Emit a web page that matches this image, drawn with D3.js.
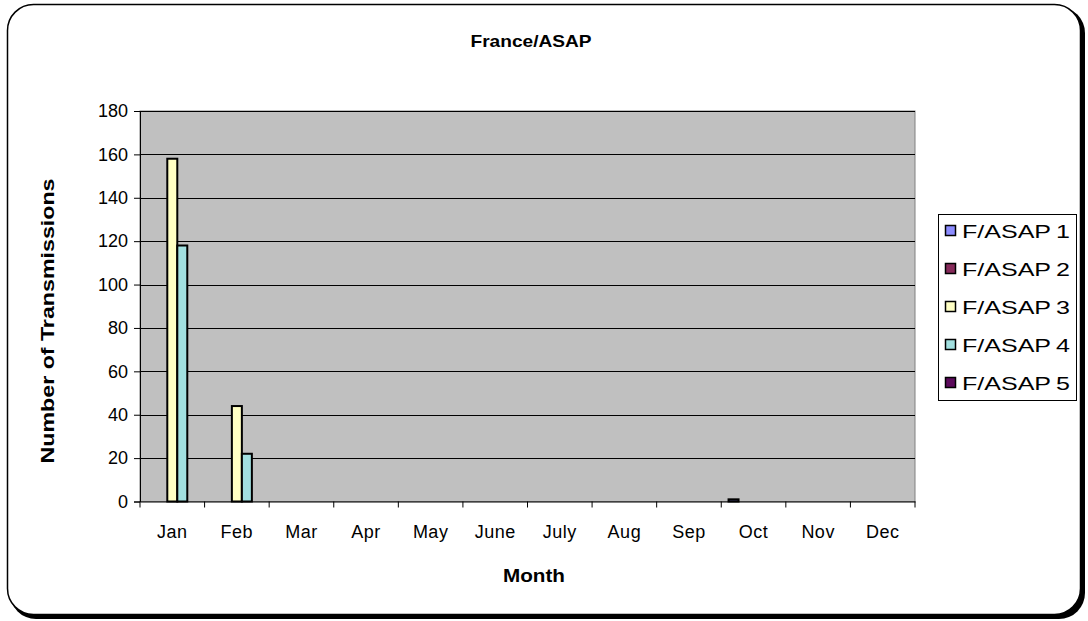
<!DOCTYPE html>
<html><head><meta charset="utf-8">
<script src="https://cdn.jsdelivr.net/npm/d3@7"></script>
<style>body{margin:0;background:#fff;}svg{display:block;font-family:"Liberation Sans",Arial,sans-serif;}</style>
</head><body><svg id="c" width="1088" height="621"></svg>
<script>
const months = ["Jan","Feb","Mar","Apr","May","June","July","Aug","Sep","Oct","Nov","Dec"];
const seriesNames = ["F/ASAP 1","F/ASAP 2","F/ASAP 3","F/ASAP 4","F/ASAP 5"];
const asap1 = [0,0,0,0,0,0,0,0,0,1,0,0];
const asap2 = [0,0,0,0,0,0,0,0,0,0,0,0];
const asap3 = [158,44,0,0,0,0,0,0,0,0,0,0];
const asap4 = [118,22,0,0,0,0,0,0,0,0,0,0];
const asap5 = [0,0,0,0,0,0,0,0,0,0,0,0];
const yTicks = [0,20,40,60,80,100,120,140,160,180];
const colors = ["#8C8CFF","#862A5A","#FFFFC4","#A2E0E0","#5C0A5C"];
const title = "France/ASAP", xTitle = "Month", yTitle = "Number of Transmissions";

const seriesData = [asap1,asap2,asap3,asap4,asap5];
const svg = d3.select("#c");

// outer frame with shadow
svg.append("rect").attr("x",10).attr("y",7).attr("width",1075).attr("height",612).attr("rx",26).attr("fill","#000");
svg.append("rect").attr("x",7.5).attr("y",4.5).attr("width",1073).attr("height",610).attr("rx",26)
  .attr("fill","#fff").attr("stroke","#000").attr("stroke-width",1.5);

const L=140, R=915, T=111, B=501.5;
const x = d3.scaleBand().domain(months).range([L,R]).padding(0);
const x1 = d3.scaleBand().domain(seriesNames).range([0,x.bandwidth()]).paddingInner(0).paddingOuter(0.73);
const y = d3.scaleLinear().domain([0,180]).range([B,T]);

svg.append("rect").attr("x",L).attr("y",T).attr("width",R-L).attr("height",B-T)
  .attr("fill","#C0C0C0").attr("stroke","#808080").attr("stroke-width",1);

svg.append("g").selectAll("line").data(yTicks.filter(d=>d>0)).join("line")
  .attr("x1",L).attr("x2",R).attr("y1",d=>Math.round(y(d))+0.5).attr("y2",d=>Math.round(y(d))+0.5)
  .attr("stroke","#000").attr("stroke-width",1);

// bars
const bars = [];
seriesData.forEach((arr,si)=>arr.forEach((v,mi)=>{ if(v>0) bars.push({s:seriesNames[si],m:months[mi],v,si}); }));
svg.append("g").selectAll("rect").data(bars).join("rect")
  .attr("x",d=>x(d.m)+x1(d.s)).attr("width",x1.bandwidth())
  .attr("y",d=>y(d.v)).attr("height",d=>B-y(d.v))
  .attr("fill",d=>colors[d.si]).attr("stroke","#000").attr("stroke-width",2);

// axes
const yAxis = d3.axisLeft(y).tickValues(yTicks).tickSize(6).tickPadding(6);
const gy = svg.append("g").attr("transform",`translate(${L},0)`).call(yAxis);
gy.select(".domain").attr("stroke","#000");
gy.selectAll("text").attr("font-size",18).attr("fill","#000").attr("font-family","Liberation Sans, Arial, sans-serif");

const xAxis = d3.axisBottom(x).tickSize(0).tickPadding(24);
const gx = svg.append("g").attr("transform",`translate(0,${B})`).call(xAxis);
gx.select(".domain").attr("stroke","#000");
gx.selectAll("text").attr("font-size",18).attr("letter-spacing",0.5).attr("fill","#000").attr("font-family","Liberation Sans, Arial, sans-serif");
// category boundary ticks
const bounds = months.map(m=>x(m)).concat([R]);
svg.append("g").selectAll("line").data(bounds).join("line")
  .attr("x1",d=>d).attr("x2",d=>d).attr("y1",B).attr("y2",B+6).attr("stroke","#000");

// titles
svg.append("text").attr("x",531).attr("y",47).attr("text-anchor","middle").attr("font-weight","bold")
  .attr("font-size",17).attr("textLength",121).attr("lengthAdjust","spacingAndGlyphs").text(title);
svg.append("text").attr("x",534).attr("y",582).attr("text-anchor","middle").attr("font-weight","bold")
  .attr("font-size",18).attr("textLength",62).attr("lengthAdjust","spacingAndGlyphs").text(xTitle);
svg.append("text").attr("transform","translate(54,321) rotate(-90)").attr("text-anchor","middle")
  .attr("font-weight","bold").attr("font-size",18).attr("textLength",285).attr("lengthAdjust","spacingAndGlyphs").text(yTitle);

// legend
const lg = svg.append("g");
lg.append("rect").attr("x",938.5).attr("y",214.5).attr("width",138).attr("height",186)
  .attr("fill","#fff").attr("stroke","#000").attr("stroke-width",1);
const rows = lg.selectAll("g").data(seriesNames).join("g")
  .attr("transform",(d,i)=>`translate(945,${231+i*38})`);
rows.append("rect").attr("x",0.5).attr("y",-5.5).attr("width",10).attr("height",10)
  .attr("fill",(d,i)=>colors[i]).attr("stroke","#000").attr("stroke-width",1.5);
rows.append("text").attr("x",17).attr("y",6.5).attr("font-size",18)
  .attr("textLength",108).attr("lengthAdjust","spacingAndGlyphs").text(d=>d.replace(" ","\u2009"));
</script></body></html>
